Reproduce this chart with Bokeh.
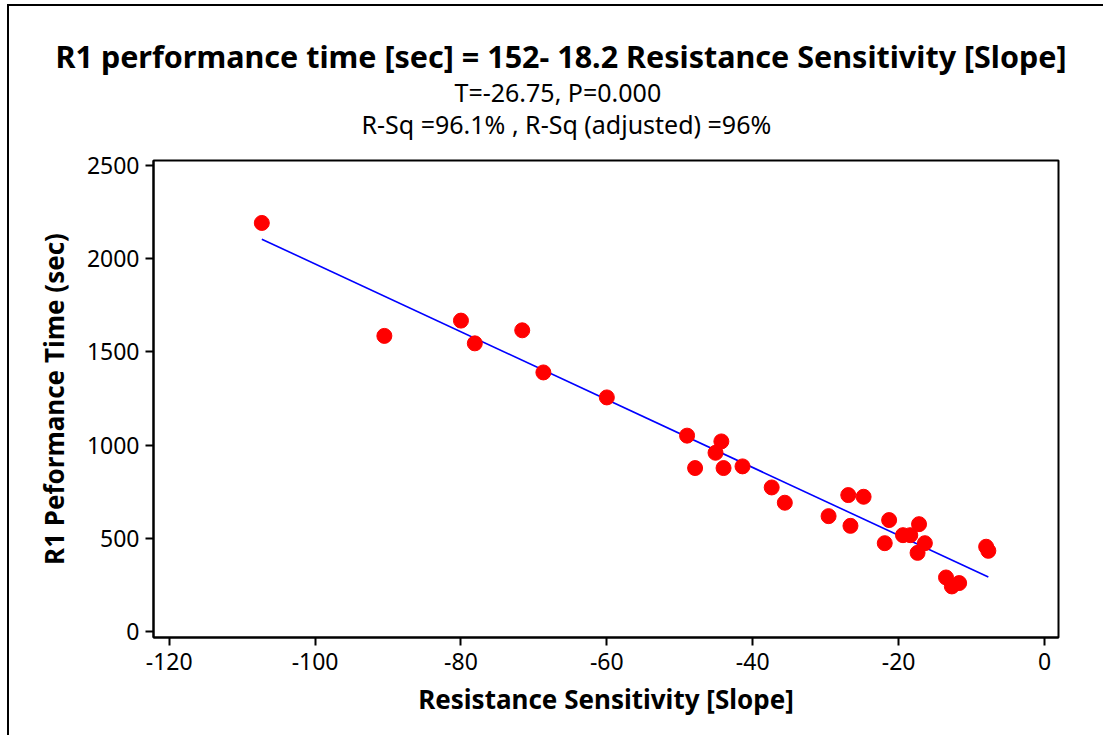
from bokeh.plotting import figure
from bokeh.models import Range1d, Title, FixedTicker, CustomJSTickFormatter
from bokeh.embed import file_html
from bokeh.resources import INLINE

# Data
sensitivity = [-107.3, -90.5, -80.0, -78.1, -71.6, -68.7, -60.0, -49.0, -44.3, -45.1,
               -47.9, -44.0, -41.4, -37.4, -35.6, -29.6, -26.9, -24.8, -26.6, -21.3,
               -21.9, -19.4, -18.4, -17.2, -16.4, -17.4, -13.5, -12.7, -11.7, -8.0, -7.7]
perf_time = [2192, 1586, 1668, 1546, 1616, 1390, 1256, 1051, 1020, 959,
             877, 877, 886, 773, 691, 619, 732, 723, 567, 598,
             474, 517, 517, 576, 474, 422, 290, 242, 260, 455, 433]
intercept = 152.0
slope = -18.2
x_ticks = [-120, -100, -80, -60, -40, -20, 0]
y_ticks = [0, 500, 1000, 1500, 2000, 2500]

title_main = "R1 performance time [sec] = 152- 18.2 Resistance Sensitivity [Slope]"
title_sub1 = "T=-26.75, P=0.000"
title_sub2 = "R-Sq =96.1% , R-Sq (adjusted) =96%"

FONT = "Noto Sans"

p = figure(width=1096, height=731, output_backend="svg", toolbar_location=None,
           x_range=Range1d(-122.15, 1.92), y_range=Range1d(-32, 2527),
           min_border_left=144, min_border_right=47, min_border_top=154,
           min_border_bottom=100)
p.styles = {"margin-left": "7px", "margin-top": "4px",
            "border-left": "2px solid black", "border-top": "2px solid black"}

p.grid.visible = False
p.outline_line_color = "black"
p.outline_line_width = 2
p.background_fill_color = "white"
p.border_fill_color = "white"

# Titles (added nearest-first); left-aligned with offsets so that they centre on the image
for txt, size, style, standoff, off in [(title_sub2, "25px", "normal", 39, 208),
                                        (title_sub1, "25px", "normal", -46, 301),
                                        (title_main, "30.5px", "bold", 18, -98)]:
    t = Title(text=txt, align="left", text_font=FONT, text_font_size=size,
              text_font_style=style, text_color="black", standoff=standoff, offset=off)
    p.add_layout(t, "above")

# Regression fit line
x_fit = [min(sensitivity), max(sensitivity)]
y_fit = [intercept + slope * v for v in x_fit]
p.line(x_fit, y_fit, line_color="#0000FF", line_width=1.6)

# Data points
p.scatter(sensitivity, perf_time, size=15, marker="circle", fill_color="#FF0000",
          line_color="#FF0000")

fmt = CustomJSTickFormatter(code="return tick.toFixed(0);")
for ax in (p.xaxis[0], p.yaxis[0]):
    ax.axis_line_color = "black"
    ax.axis_line_width = 2
    ax.major_tick_line_color = "black"
    ax.major_tick_line_width = 2
    ax.major_tick_out = 8
    ax.major_tick_in = 0
    ax.minor_tick_line_color = None
    ax.formatter = fmt
    ax.major_label_text_font = FONT
    ax.major_label_text_font_size = "23px"
    ax.major_label_text_color = "black"
    ax.axis_label_text_font = FONT
    ax.axis_label_text_font_size = "26px"
    ax.axis_label_text_font_style = "bold"
    ax.axis_label_text_color = "black"

p.xaxis[0].ticker = FixedTicker(ticks=x_ticks)
p.yaxis[0].ticker = FixedTicker(ticks=y_ticks)
p.xaxis[0].axis_label = "Resistance Sensitivity [Slope]"
p.yaxis[0].axis_label = "R1 Peformance Time (sec)"
p.xaxis[0].major_label_standoff = 7
p.yaxis[0].major_label_standoff = 6
p.xaxis[0].axis_label_standoff = 8
p.yaxis[0].axis_label_standoff = 12

open("out.html", "w").write(file_html(p, INLINE))
